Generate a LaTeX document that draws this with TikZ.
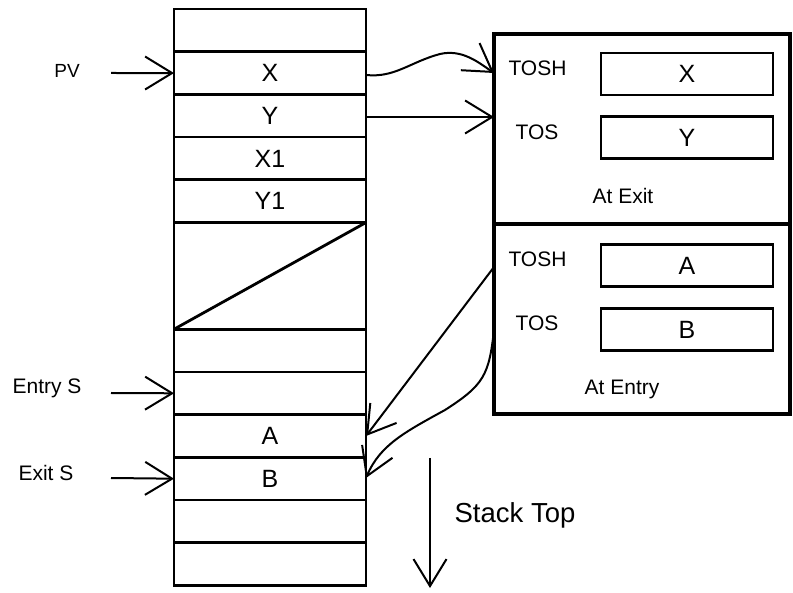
\documentclass[tikz,border=0pt]{standalone}
\usepackage{fontspec}
\setmainfont{Liberation Sans}
\usetikzlibrary{arrows.meta}
\begin{document}
\begin{tikzpicture}[x=1pt,y=-1pt,
  cell/.style={draw, line width=2.8pt, minimum width=192pt, minimum height=42.7pt, inner sep=0pt, outer sep=0pt, anchor=north west, font=\fontsize{25}{28}\selectfont},
  panel/.style={draw, line width=3.2pt, inner sep=0pt, outer sep=0pt, anchor=north west, minimum width=296pt},
  regbox/.style={draw, line width=2.8pt, minimum width=172pt, minimum height=42pt, inner sep=0pt, outer sep=0pt, anchor=north west, font=\fontsize{25}{28}\selectfont},
  lab/.style={font=\fontsize{21}{24}\selectfont, inner sep=0pt},
  small/.style={font=\fontsize{21}{24}\selectfont, inner sep=0pt},
  conn/.style={line width=2pt, -{Straight Barb[length=27pt,width=33pt]}},
]
\useasboundingbox (0,0) rectangle (793,593);
% stack
\node[cell] (r0) at (174,9) {};
\node[cell] (r1) at (174,51.7) {X};
\node[cell] (r2) at (174,94.4) {Y};
\node[cell] (r3) at (174,137.1) {X1};
\node[cell] (r4) at (174,179.8) {Y1};
\node[cell, minimum height=106.75pt] (big) at (174,222.5) {};
\draw[line width=2.8pt] (big.south west) -- (big.north east);
\node[cell] (r5) at (174,329.25) {};
\node[cell] (r6) at (174,371.95) {};
\node[cell] (r7) at (174,414.65) {A};
\node[cell] (r8) at (174,457.35) {B};
\node[cell] (r9) at (174,500.05) {};
\node[cell] (r10) at (174,542.75) {};
% left labels and arrows
\node[lab, font=\fontsize{19}{22}\selectfont] (pv) at (67,71) {PV};
\node[lab] (entry) at (47,388) {Entry S};
\node[lab] (exit) at (46,473) {Exit S};
\coordinate (pvs) at (111,73);
\coordinate (ens) at (111,393);
\coordinate (exs) at (111,478);
\draw[conn] (pvs) -- (r1.west);
\draw[conn] (ens) -- (r6.west);
\draw[conn] (exs) -- (r8.west);
% panels
\node[panel, minimum height=190pt] (exitp) at (494,34) {};
\node[panel, minimum height=190pt] (entryp) at (494,224) {};
\node[regbox] (bx) at (601,53) {X};
\node[regbox] (by) at (601,116.5) {Y};
\node[regbox] (ba) at (601,244.5) {A};
\node[regbox] (bb) at (601,308.5) {B};
\node[small] (tosh1) at (537.5,68) {TOSH};
\node[small] (tos1) at (537,132) {TOS};
\node[small] (atexit) at (623,196) {At Exit};
\node[small] (tosh2) at (537.5,259) {TOSH};
\node[small] (tos2) at (537,323) {TOS};
\node[small] (atentry) at (622,389) {At Entry};
% connectors
\coordinate (t1) at (494,73);
\coordinate (t2) at (494,117);
\coordinate (e1) at (494,267);
\coordinate (e2) at (494,330);
\draw[conn] (r1.east |- 0,75) .. controls (395,78) and (410,62) .. (440,54) .. controls (462,49) and (478,62) .. (t1);
\draw[conn] (r2.east |- t2) -- (t2);
\draw[conn] (e1) -- (r7.east |- 0,436);
\draw[conn] (e2) .. controls (489,375) and (484,385) .. (445,410) .. controls (405,432) and (380,445) .. (r8.east |- 0,478);
% stack top
\coordinate (st1) at (430,458);
\coordinate (st2) at (430,588);
\draw[conn] (st1) -- (st2);
\node[font=\fontsize{27.5}{30}\selectfont, inner sep=0pt] (stacktop) at (515,515) {Stack Top};
\end{tikzpicture}
\end{document}
